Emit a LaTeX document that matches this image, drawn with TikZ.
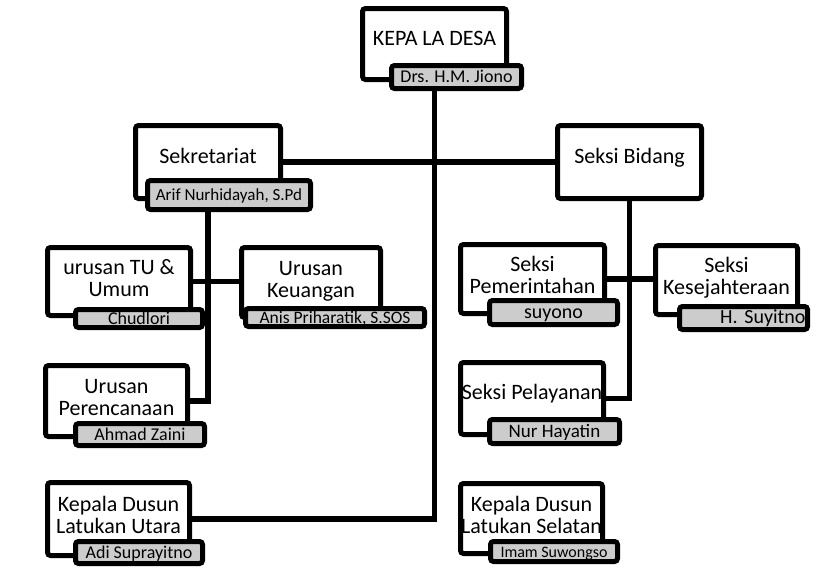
\documentclass[tikz,border=0pt]{standalone}
\usepackage{fontspec}
\setmainfont{Carlito}

\begin{document}
\begin{tikzpicture}[x=1pt, y=-1pt,
    unit/.style={draw, line width=5pt, fill=white, rounded corners=3pt, align=center, inner sep=0pt,
        font=\fontsize{22}{22}\selectfont, text height=2pt, text depth=0pt},
    two lines/.style={text height=29pt, text depth=0pt},
    person/.style={draw, line width=5pt, fill=black!20, rounded corners=3pt, inner sep=0pt,
        font=\fontsize{18}{20}\selectfont, text height=13pt, text depth=2pt},
    link/.style={line width=5.5pt}]
    \useasboundingbox (0,0) rectangle (815,566);
    % Units
    \node[unit, minimum width=144pt, minimum height=71pt] (kades) at (434.5,44) {KEPA LA DESA};
    \node[unit, minimum width=145pt, minimum height=73pt] (sek) at (208,162) {Sekretariat};
    \node[unit, minimum width=144pt, minimum height=73pt] (bid) at (629.5,162) {Seksi Bidang};
    \node[unit, two lines, minimum width=143pt, minimum height=68pt] (tu) at (119,281.5) {urusan TU \&\\Umum};
    \node[unit, two lines, minimum width=139pt, minimum height=70pt] (keu) at (311,282.5) {Urusan\\Keuangan};
    \node[unit, two lines, minimum width=144pt, minimum height=69pt] (pem) at (532.5,279) {Seksi\\Pemerintahan};
    \node[unit, two lines, minimum width=142pt, minimum height=69pt] (kes) at (726.5,280) {Seksi\\Kesejahteraan};
    \node[unit, two lines, minimum width=142pt, minimum height=71pt] (ren) at (116.5,401) {Urusan\\Perencanaan};
    \node[unit, minimum width=143pt, minimum height=72pt] (pel) at (532,398.5) {Seksi Pelayanan};
    \node[unit, two lines, minimum width=142pt, minimum height=73pt] (utara) at (118.5,519) {Kepala Dusun\\Latukan Utara};
    \node[unit, two lines, minimum width=142pt, minimum height=70pt] (selatan) at (531.5,518.5) {Kepala Dusun\\Latukan Selatan};
    % Names
    \node[person, minimum width=130pt, minimum height=23pt] (kdname) at (456.5,77) {Drs. H.M. Jiono};
    \node[person, minimum width=163pt, minimum height=29pt, font=\fontsize{17}{19}\selectfont] (skname) at (229,195) {Arif Nurhidayah, S.Pd};
    \node[person, minimum width=127pt, minimum height=18pt] (tuname) at (139,318.5) {Chudlori};
    \node[person, minimum width=179pt, minimum height=18pt, font=\fontsize{17.5}{19}\selectfont] (keuname) at (335,317.5) {Anis Priharatik, S.SOS};
    \node[person, minimum width=128pt, minimum height=24pt, font=\fontsize{20}{22}\selectfont] (pemname) at (553.5,312.5) {suyono};
    \node[person, minimum width=128pt, minimum height=23pt, text width=124pt, align=right,
        font=\fontsize{20}{22}\selectfont] (kesname) at (743.5,318) {H. Suyitno};
    \node[person, minimum width=129pt, minimum height=22pt] (renname) at (140,434.5) {Ahmad Zaini};
    \node[person, minimum width=130pt, minimum height=24pt, font=\fontsize{19}{21}\selectfont] (pelname) at (554.5,431.5) {Nur Hayatin};
    \node[person, minimum width=127pt, minimum height=22pt] (utname) at (139,552.5) {Adi Suprayitno};
    \node[person, minimum width=127pt, minimum height=20pt, font=\fontsize{16}{18}\selectfont] (selname) at (554,551.5) {Imam Suwongso};
    % Lines
    \draw[link] (kades.center |- kdname.south) -- (kades |- utara) -- (utara.east);
    \draw[link] (sek.east) -- (sek.east -| bid.west);
    \draw[link] (sek.center |- skname.south) -- (sek.center |- ren.east) -- (ren.east);
    \draw[link] (tu.east) -- (tu.east -| keu.west);
    \draw[link] (bid.south) -- (bid.south |- pel.east) -- (pel.east);
    \draw[link] (pem.east) -- (pem.east -| kes.west);
\end{tikzpicture}
\end{document}
